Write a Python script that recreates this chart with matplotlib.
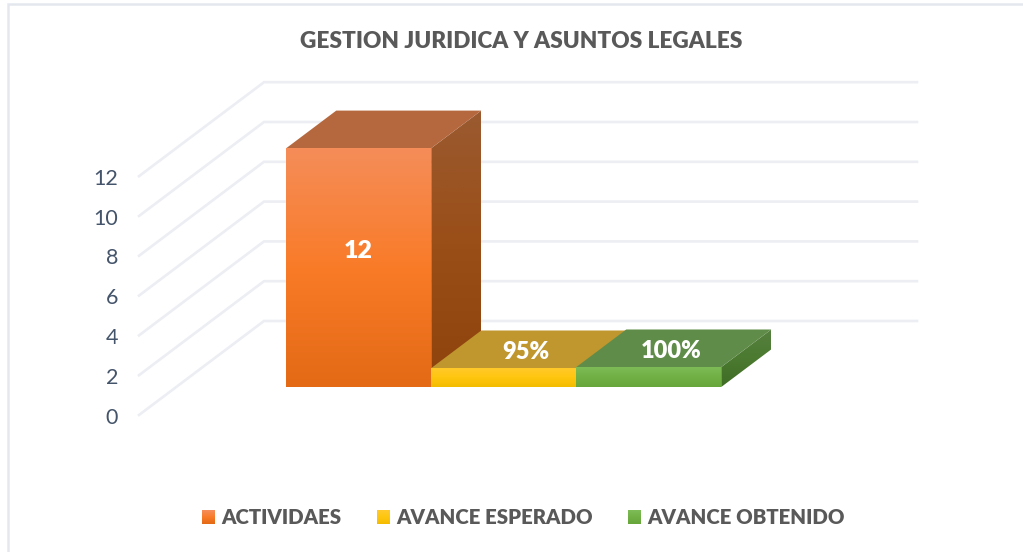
import numpy as np
import matplotlib
matplotlib.use('Agg')
import matplotlib.pyplot as plt
from matplotlib.colors import LinearSegmentedColormap
from matplotlib.legend_handler import HandlerBase
from matplotlib.patches import Patch, Polygon, Rectangle

plt.rcParams['font.family'] = ['Lato', 'DejaVu Sans']

title = 'GESTION JURIDICA Y ASUNTOS LEGALES'
series = ['ACTIVIDAES', 'AVANCE ESPERADO', 'AVANCE OBTENIDO']
values = [12, 0.95, 1.0]
value_labels = ['12', '95%', '100%']
y_ticks = [0, 2, 4, 6, 8, 10, 12]

front_colors = [['#F58D59', '#F97B28', '#E46A16'],
                ['#FFC92B', '#FFC60F', '#F4BC00'],
                ['#7DBB57', '#70B044', '#66A63A']]
side_colors = [['#9A5A30', '#9A4E17', '#8E420C'],
               ['#9A7A10', '#957408', '#8A6A00'],
               ['#568040', '#4B7A30', '#3F6C25']]
top_colors = ['#B5683E', '#C0962E', '#608C49']

W, H = 1023, 552
PX_X = 145.0   # px per bar width
PX_Y = 19.9    # px per value unit
X0 = 139       # px of front left floor corner
Y0 = 415       # px of value 0 at the front
BAR_START = 110 / PX_X
FLOOR_W = 653 / PX_X
DEPTH_X = 125 / PX_X
DEPTH_Y = 94 / PX_Y
BAR_D0, BAR_D1 = 0.298, 0.698
TEXT_DY = 2.5 / PX_Y  # va=center sits a little high


def proj(x, y, d):
    return x + d * DEPTH_X, y + d * DEPTH_Y


def gradient_face(ax, pts, colors):
    cmap = LinearSegmentedColormap.from_list('face', colors)
    pts = np.array(pts)
    grad = np.linspace(0, 1, 128).reshape(-1, 1)
    ext = [pts[:, 0].min(), pts[:, 0].max(), pts[:, 1].min(), pts[:, 1].max()]
    im = ax.imshow(grad, cmap=cmap, extent=ext, origin='upper', aspect='auto', zorder=3)
    poly = Polygon(pts, closed=True, transform=ax.transData, fc='none', ec='none')
    ax.add_patch(poly)
    im.set_clip_path(poly)


def draw_bar(ax, left, value, front, side, top):
    right = left + 1
    f = [proj(left, 0, BAR_D0), proj(right, 0, BAR_D0), proj(right, value, BAR_D0), proj(left, value, BAR_D0)]
    s = [proj(right, 0, BAR_D0), proj(right, 0, BAR_D1), proj(right, value, BAR_D1), proj(right, value, BAR_D0)]
    t = [proj(left, value, BAR_D0), proj(right, value, BAR_D0), proj(right, value, BAR_D1), proj(left, value, BAR_D1)]
    gradient_face(ax, s, side)
    ax.add_patch(Polygon(t, closed=True, fc=top, ec='none', zorder=3))
    gradient_face(ax, f, front)


class GradientHandler(HandlerBase):
    def create_artists(self, legend, orig, xd, yd, width, height, fontsize, trans):
        cmap = LinearSegmentedColormap.from_list('swatch', orig.gradient)
        n = 14
        out = []
        for i in range(n):
            out.append(Rectangle((-xd, -yd + height * (n - 1 - i) / n), width, height / n + 0.3,
                                 fc=cmap(i / (n - 1)), ec='none', transform=trans))
        return out


fig = plt.figure(figsize=(W / 100, H / 100), dpi=100, facecolor='white')
ax = fig.add_axes([0, 0, 1, 1])

# chart frame
fig.add_artist(Rectangle((8 / W, -0.02), 1.1, 1.0 - 4 / H + 0.02, transform=fig.transFigure,
                         fc='white', ec='#E4E8EE', lw=1.8, zorder=-5))
ax.patch.set_alpha(0)

# walls
for v in y_ticks:
    xs = [0, DEPTH_X, DEPTH_X + FLOOR_W]
    ys = [v, v + DEPTH_Y, v + DEPTH_Y]
    ax.plot(xs, ys, color='#ECEEF3', lw=1.9, zorder=1, solid_joinstyle='miter')
    ax.text(-21 / PX_X, v - TEXT_DY, str(v), ha='right', va='center', fontsize=15.5, color='#44546A')

# bars, left to right so each top covers the side of the one before
for i in range(len(values)):
    draw_bar(ax, BAR_START + i, values[i], front_colors[i], side_colors[i], top_colors[i])

# data labels
mid = (BAR_D0 + BAR_D1) / 2
lx = proj(BAR_START + 0.5, 0, BAR_D0)[0]
ly = proj(0, values[0] / 2, mid)[1]
ax.text(lx, ly - TEXT_DY, value_labels[0], ha='center', va='center', color='white',
        fontsize=18, fontweight='heavy', zorder=5)
for i in (1, 2):
    lx, ly = proj(BAR_START + i + 0.5, values[i], mid)
    ax.text(lx - 0.02, ly - TEXT_DY, value_labels[i], ha='center', va='center', color='white',
            fontsize=17, fontweight='heavy', zorder=5)

ax.set_xlim(-X0 / PX_X, (W - X0) / PX_X)
ax.set_ylim(-(H - Y0) / PX_Y, Y0 / PX_Y)
ax.axis('off')

fig.text(521 / W, 1 - 41 / H, title, ha='center', va='center', fontsize=16.3,
         fontweight='heavy', color='#595959')

handles = []
for name, cols in zip(series, front_colors):
    p = Patch(label=name)
    p.gradient = cols
    handles.append(p)
fig.legend(handles=handles, loc='center', bbox_to_anchor=(523.5 / W, 1 - 518 / H), ncol=3, frameon=False,
           handler_map={Patch: GradientHandler()}, prop={'weight': 'heavy', 'size': 14.65},
           labelcolor='#595959', handlelength=0.64, handleheight=0.64,
           handletextpad=0.3, columnspacing=1.75)

fig.savefig('out.png', dpi=100)
